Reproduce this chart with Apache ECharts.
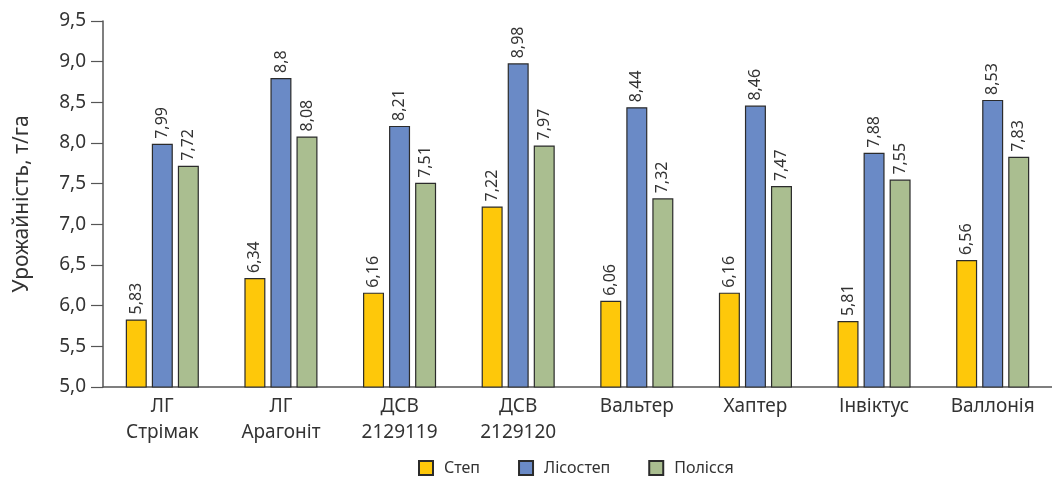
<!DOCTYPE html>
<html>
<head>
<meta charset="utf-8">
<script src="https://cdn.jsdelivr.net/npm/echarts@6/dist/echarts.min.js"></script>
<style>
  html, body { margin: 0; padding: 0; background: #fff; }
  #barChart { width: 1052px; height: 482px; }
</style>
</head>
<body>
<div id="barChart"></div>
<script>
// сорти
const categories = ['ЛГ\nСтрімак', 'ЛГ\nАрагоніт', 'ДСВ\n2129119', 'ДСВ\n2129120', 'Вальтер', 'Хаптер', 'Інвіктус', 'Валлонія'];
const seriesNames = ['Степ', 'Лісостеп', 'Полісся'];
const stepValues = [5.83, 6.34, 6.16, 7.22, 6.06, 6.16, 5.81, 6.56];
const lisostepValues = [7.99, 8.8, 8.21, 8.98, 8.44, 8.46, 7.88, 8.53];
const polissiaValues = [7.72, 8.08, 7.51, 7.97, 7.32, 7.47, 7.55, 7.83];
const yAxisName = 'Урожайність, т/га';

const colors = ['#FEC80A', '#6A8AC6', '#AABE90'];
const font = '"Noto Sans", sans-serif';

let chartContainer = document.getElementById('barChart');
let myChart = echarts.init(chartContainer);

let makeSeries = function (name, data, idx) {
  return {
    name: name,
    type: 'bar',
    data: data,
    barWidth: 21,
    barGap: '24%',
    itemStyle: {
      color: colors[idx],
      borderColor: '#2b2b2b',
      borderWidth: 1.2
    },
    label: {
      show: true,
      position: 'top',
      rotate: 90,
      align: 'left',
      verticalAlign: 'middle',
      distance: 5,
      fontFamily: font,
      fontSize: 16,
      color: '#333',
      formatter: function (params) {
        return String(params.value).replace('.', ',');
      }
    }
  };
};

let option = {
  animation: false,
  textStyle: { fontFamily: font },
  grid: {
    left: 103,
    top: 21,
    width: 952,
    height: 366
  },
  legend: {
    bottom: 1,
    left: 413,
    itemWidth: 14,
    itemHeight: 14,
    itemGap: 38,
    icon: 'rect',
    textStyle: { fontFamily: font, fontSize: 16, color: '#333', padding: [0, 0, 0, 6] },
    data: seriesNames
  },
  xAxis: {
    type: 'category',
    data: categories,
    axisLine: { lineStyle: { color: '#555', width: 1.5 } },
    axisTick: { show: false },
    axisLabel: {
      fontFamily: font,
      fontSize: 19,
      color: '#333',
      lineHeight: 26,
      margin: 7
    }
  },
  yAxis: {
    type: 'value',
    min: 5,
    max: 9.5,
    interval: 0.5,
    name: yAxisName,
    nameLocation: 'middle',
    nameGap: 70,
    nameTextStyle: { fontFamily: font, fontSize: 21, color: '#333' },
    splitLine: { show: false },
    axisLine: { show: true, lineStyle: { color: '#555', width: 1.5 } },
    axisTick: { show: true, length: 12, lineStyle: { color: '#555', width: 1.2 } },
    axisLabel: {
      fontFamily: font,
      fontSize: 19,
      color: '#333',
      margin: 17,
      formatter: function (v) {
        return v.toFixed(1).replace('.', ',');
      }
    }
  },
  series: [
    makeSeries(seriesNames[0], stepValues, 0),
    makeSeries(seriesNames[1], lisostepValues, 1),
    makeSeries(seriesNames[2], polissiaValues, 2)
  ]
};

myChart.setOption(option);
</script>
</body>
</html>
